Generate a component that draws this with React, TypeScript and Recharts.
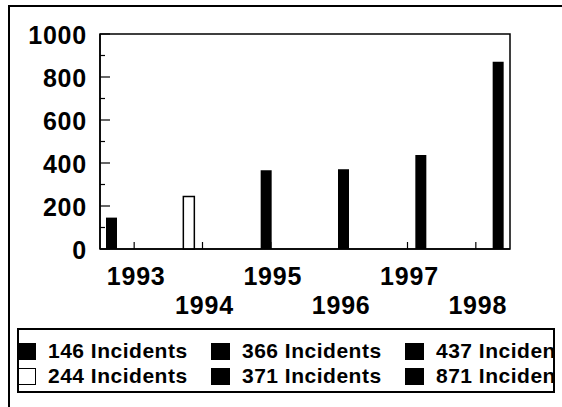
import { Bar, BarChart, ReferenceArea, XAxis, YAxis } from "recharts";

const years = ["1993", "1994", "1995", "1996", "1997", "1998"];
const incidents = [146, 244, 366, 371, 437, 871];
const barFills = ["#000", "#fff", "#000", "#000", "#000", "#000"];
const yTicks = [0, 100, 200, 300, 400, 500, 600, 700, 800, 900, 1000];

const seriesNames = incidents.map((n) => `${n} Incidents`);

// one series per year, each only filled in its own category (grouped layout)
const data = years.map((year, i) => {
  const row: Record<string, string | number> = { year };
  row[`s${i}`] = incidents[i];
  return row;
});

const font = "'Liberation Sans', Arial, Helvetica, sans-serif";

function YTick(props: any) {
  const { x, y, payload } = props;
  const major = payload.value % 200 === 0;
  return (
    <g>
      <line x1={x} x2={x + (major ? 10 : 5)} y1={y} y2={y} stroke="#000" strokeWidth={1.2} />
      {major && (
        <text
          x={x - 13}
          y={y + 1}
          textAnchor="end"
          dominantBaseline="central"
          fontFamily={font}
          fontWeight="bold"
          fontSize={25}
          letterSpacing={0.8}
          fill="#000"
        >
          {payload.value}
        </text>
      )}
    </g>
  );
}

function XTick(props: any) {
  const { x, y, payload, index } = props;
  return (
    <g>
      <line x1={x} x2={x} y1={y} y2={y - 7} stroke="#000" strokeWidth={1.2} />
      <text
        x={x + 2}
        y={y + (index % 2 === 0 ? 27 : 56)}
        textAnchor="middle"
        dominantBaseline="central"
        fontFamily={font}
        fontWeight="bold"
        fontSize={25}
        letterSpacing={0.8}
        fill="#000"
      >
        {payload.value}
      </text>
    </g>
  );
}

function LegendBox() {
  return (
    <div
      style={{
        position: "absolute",
        left: 17,
        top: 328,
        width: 538,
        height: 65,
        overflow: "hidden",
        background: "#fff",
      }}
    >
      {seriesNames.map((name, i) => {
        const col = Math.floor(i / 2);
        const row = i % 2;
        return (
          <div
            key={name}
            style={{
              position: "absolute",
              left: col * 194,
              top: 11 + row * 25,
              height: 24,
              display: "flex",
              alignItems: "center",
              whiteSpace: "nowrap",
            }}
          >
            <span
              style={{
                width: 19,
                height: 17,
                boxSizing: "border-box",
                background: barFills[i],
                border: "1.5px solid #000",
                marginRight: 12,
                flex: "none",
              }}
            />
            <span
              style={{
                fontFamily: font,
                fontWeight: "bold",
                fontSize: 21,
                letterSpacing: 0.5,
                color: "#000",
              }}
            >
              {name}
            </span>
          </div>
        );
      })}
      <svg width={538} height={65} style={{ position: "absolute", left: 0, top: 0 }}>
        <rect x={1} y={1} width={536} height={63} fill="none" stroke="#000" strokeWidth={2} />
      </svg>
    </div>
  );
}

export default function App() {
  return (
    <div style={{ position: "relative", width: 562, height: 407, overflow: "hidden", background: "#fff" }}>
      <style>{"body{margin:0}"}</style>
      <div style={{ position: "absolute", left: 8, top: 5 }}>
        <BarChart
          width={554}
          height={402}
          data={data}
          margin={{ top: 29, right: 52, left: 12, bottom: 88 }}
          barGap={-2}
        >
          <XAxis
            dataKey="year"
            interval={0}
            height={70}
            tickSize={0}
            tickMargin={0}
            tickLine={false}
            axisLine={{ stroke: "#000", strokeWidth: 1.5 }}
            tick={<XTick />}
          />
          <YAxis
            domain={[0, 1000]}
            ticks={yTicks}
            interval={0}
            width={80}
            tickSize={0}
            tickMargin={0}
            tickLine={false}
            axisLine={{ stroke: "#000", strokeWidth: 1.5 }}
            tick={<YTick />}
          />
          <ReferenceArea
            y1={0}
            y2={1000}
            fill="none"
            stroke="#000"
            strokeWidth={1.5}
            ifOverflow="visible"
          />
          {incidents.map((_, i) => (
            <Bar
              key={i}
              dataKey={`s${i}`}
              name={seriesNames[i]}
              fill={barFills[i]}
              stroke="#000"
              strokeWidth={i === 1 ? 1.5 : 0}
              barSize={11}
              isAnimationActive={false}
            />
          ))}
        </BarChart>
      </div>
      <LegendBox />
      {/* outer frame: top and left edges of the scanned page border */}
      <div style={{ position: "absolute", left: 8, top: 5, width: 554, height: 2, background: "#000" }} />
      <div style={{ position: "absolute", left: 8, top: 5, width: 2, height: 402, background: "#000" }} />
    </div>
  );
}
